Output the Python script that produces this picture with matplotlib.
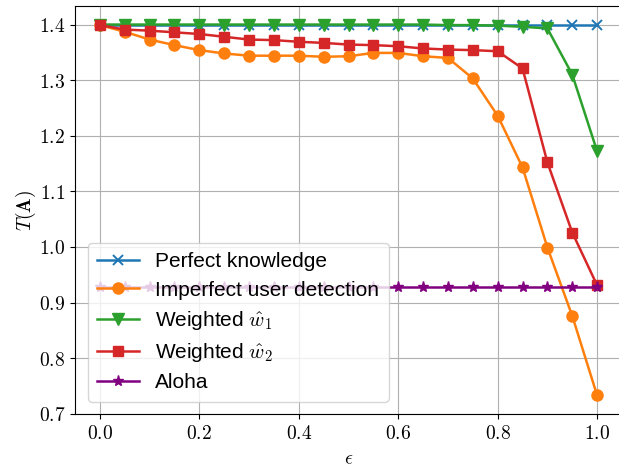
import numpy as np
import matplotlib
matplotlib.use("Agg")
import matplotlib.pyplot as plt

plt.rcParams['mathtext.fontset'] = 'cm'

eps = [0.0, 0.05, 0.1, 0.15, 0.2, 0.25, 0.3, 0.35, 0.4, 0.45, 0.5,
       0.55, 0.6, 0.65, 0.7, 0.75, 0.8, 0.85, 0.9, 0.95, 1.0]

perfect = [1.399] * 21
imperfect = [1.399, 1.387, 1.373, 1.363, 1.354, 1.348, 1.344, 1.344, 1.344, 1.342, 1.343,
             1.349, 1.349, 1.343, 1.340, 1.303, 1.236, 1.143, 0.999, 0.876, 0.733]
weighted1 = [1.400, 1.400, 1.400, 1.400, 1.400, 1.400, 1.400, 1.400, 1.400, 1.400, 1.400,
             1.400, 1.400, 1.400, 1.399, 1.399, 1.398, 1.396, 1.393, 1.310, 1.172]
weighted2 = [1.399, 1.391, 1.389, 1.386, 1.383, 1.378, 1.373, 1.372, 1.369, 1.367, 1.364,
             1.363, 1.361, 1.357, 1.355, 1.354, 1.352, 1.321, 1.152, 1.026, 0.931]
aloha = [0.928] * 21

labels = ["Perfect knowledge", "Imperfect user detection",
          r"Weighted $\hat{w}_1$", r"Weighted $\hat{w}_2$", "Aloha"]

fig = plt.figure(figsize=(6.19, 4.68), dpi=100)
W, H = 619, 468
ax = fig.add_axes([75 / W, 54 / H, 547 / W, 408 / H])

ax.plot(eps, perfect, marker='x', color='tab:blue', lw=1.8, ms=7, mew=1.4, label=labels[0])
ax.plot(eps, imperfect, marker='o', color='tab:orange', lw=1.8, ms=8, label=labels[1])
ax.plot(eps, weighted1, marker='v', color='tab:green', lw=1.8, ms=8, label=labels[2])
ax.plot(eps, weighted2, marker='s', color='tab:red', lw=1.8, ms=7.5, label=labels[3])
ax.plot(eps, aloha, marker='*', color='purple', lw=1.8, ms=8, label=labels[4])

ax.grid(True, color='#b0b0b0', lw=0.8)
ax.set_xticks([0.0, 0.2, 0.4, 0.6, 0.8, 1.0])
ax.set_xticklabels([f"${v:.1f}$" for v in [0.0, 0.2, 0.4, 0.6, 0.8, 1.0]])
yt = [0.7, 0.8, 0.9, 1.0, 1.1, 1.2, 1.3, 1.4]
ax.set_yticks(yt)
ax.set_yticklabels([f"${v:.1f}$" for v in yt])
ax.tick_params(labelsize=14)
ax.set_xlabel(r"$\epsilon$", fontsize=14, labelpad=5)
ax.set_ylabel(r"$T(\mathbf{A})$", fontsize=14)
ax.yaxis.set_label_coords(-37 / 547, 0.5)

leg = ax.legend(loc='lower left', prop={'family': 'Liberation Sans', 'size': 15},
                labelspacing=0.44, handlelength=2.0, borderaxespad=0.6, borderpad=0.45)

fig.savefig("out.png", dpi=100)
